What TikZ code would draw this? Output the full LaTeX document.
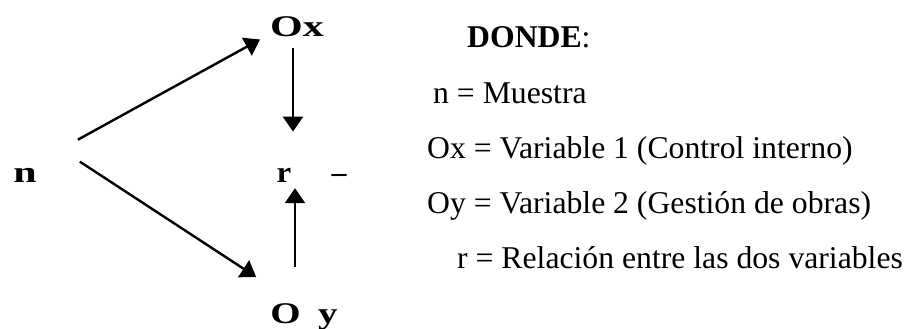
\documentclass[tikz,border=0pt]{standalone}
\usepackage{fontspec}
\setmainfont{Liberation Serif}
\usepackage{tikz}
\usetikzlibrary{arrows.meta,positioning,calc}
\newcommand{\wide}[1]{\scalebox{1.4}[1]{#1}}

\begin{document}
\begin{tikzpicture}[x=1pt,y=1pt,>={Triangle[length=15pt,width=20pt]},
  lbl/.style={inner sep=0,font=\fontsize{30}{32}\selectfont\bfseries},
  txt/.style={inner sep=0,anchor=base west,font=\fontsize{31.7}{36}\selectfont},
  arr/.style={->,line width=2.4pt}]
\useasboundingbox (0,0) rectangle (910,-329);
\node[lbl,anchor=base] (n) at (25,-182) {\wide{n}};
\node[lbl,anchor=base] (ox) at (297,-37) {\wide{Ox}};
\node[lbl,anchor=base] (r) at (284,-182) {\scalebox{1.1}[1]{r}};
\node[lbl,anchor=base] (dash) at (339,-182) {–};
\node[lbl,anchor=base] (oy) at (304,-323) {\scalebox{1.3}[1]{O\hspace{0.45em}y}};
\draw[arr] ([shift={(41,28)}]n.north east) -- ([shift={(-10,-2)}]ox.south west);
\draw[arr] ([shift={(43,6)}]n.north east) -- ([shift={(-14,26)}]oy.north west);
\draw[arr] ([shift={(-4,-11)}]ox.south) -- ([shift={(9,36)}]r.north);
\draw[arr] ([shift={(-9,36)}]oy.north) -- ([shift={(11,-6)}]r.south);
% leyenda
\node[txt] (t0) at (467,-48) {\textbf{DONDE}:};
\node[txt] (t1) at (433,-103) {n = Muestra};
\node[txt] (t2) at (427,-158) {Ox = Variable 1 (Control interno)};
\node[txt] (t3) at (427,-213) {Oy = Variable 2 (Gestión de obras)};
\node[txt] (t4) at (457,-268) {r = Relación entre las dos variables};
\end{tikzpicture}
\end{document}
